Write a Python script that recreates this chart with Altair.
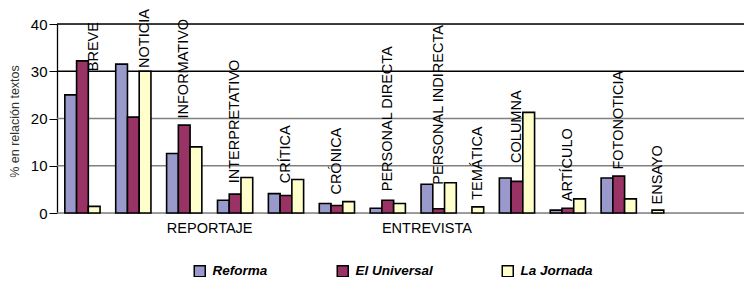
import altair as alt
import pandas as pd

series = ["Reforma", "El Universal", "La Jornada"]
colors = ["#9999CC", "#993366", "#FFFFCC"]
categories = ["BREVE", "NOTICIA", "INFORMATIVO", "INTERPRETATIVO", "CRÍTICA", "CRÓNICA",
              "PERSONAL DIRECTA", "PERSONAL INDIRECTA", "TEMÁTICA", "COLUMNA", "ARTÍCULO",
              "FOTONOTICIA", "ENSAYO"]
reforma = [25.0, 31.5, 12.6, 2.7, 4.1, 2.0, 1.0, 6.1, None, 7.4, 0.6, 7.4, None]
universal = [32.2, 20.3, 18.6, 4.0, 3.7, 1.6, 2.7, 0.9, None, 6.7, 1.0, 7.8, None]
jornada = [1.4, 30.0, 14.0, 7.5, 7.1, 2.4, 2.0, 6.4, 1.3, 21.3, 3.0, 3.0, 0.6]
# which bar each category's name is written over, and at what height (%)
label_series = ["La Jornada", "La Jornada", "El Universal", "El Universal", "El Universal",
                "El Universal", "El Universal", "El Universal", "La Jornada", "El Universal",
                "El Universal", "El Universal", "La Jornada"]
label_at = [30.0, 30.7, 20.0, 6.3, 6.3, 3.9, 4.6, 6.0, 2.8, 10.6, 2.5, 9.2, 1.8]
groups = {"REPORTAJE": ["INFORMATIVO", "INTERPRETATIVO"],
          "ENTREVISTA": ["PERSONAL DIRECTA", "PERSONAL INDIRECTA", "TEMÁTICA"]}
y_ticks = [0, 10, 20, 30, 40]

# layout in bar-width units: bars side by side, a gap between categories
GAP = 4 / 3
X_MAX = 58.5
rows, centers, spans = [], {}, {}
cursor = GAP / 2
for i, c in enumerate(categories):
    start = cursor
    for s, vals in zip(series, [reforma, universal, jornada]):
        v = vals[i]
        if v is None:
            continue
        rows.append(dict(cat=c, series=s, x=cursor, x2=cursor + 1, v=v))
        centers[(c, s)] = cursor + 0.5
        cursor += 1
    spans[c] = (start, cursor)
    cursor += GAP
bars_df = pd.DataFrame(rows)
labels_df = pd.DataFrame(dict(
    cat=categories,
    x=[centers[(c, s)] for c, s in zip(categories, label_series)],
    y=label_at,
))
group_df = pd.DataFrame(dict(
    name=list(groups.keys()),
    x=[(spans[v[0]][0] + spans[v[-1]][1]) / 2 for v in groups.values()],
))
grid_df = pd.DataFrame(dict(v=y_ticks))

FONT = "Liberation Sans"
xs = alt.Scale(domain=[0, X_MAX], nice=False, zero=False)
ys = alt.Scale(domain=[0, 40], nice=False)

grid = alt.Chart(grid_df).mark_rule(strokeWidth=1.3).encode(
    y=alt.Y("v:Q", scale=ys, axis=alt.Axis(
        values=y_ticks, title="% en relación textos", grid=False,
        labelFont=FONT, labelFontSize=15, labelColor="black", labelPadding=2,
        tickSize=8, tickColor="black", domainColor="black", domainWidth=1.3,
        titleFont=FONT, titleFontSize=12.5, titleFontWeight="normal", titleColor="#333333",
        titleX=-43, titleY=97, titleAngle=270, titleAlign="center", titleBaseline="middle")),
    color=alt.condition(alt.datum.v >= 30, alt.value("black"), alt.value("#808080")),
)

bars = alt.Chart(bars_df).mark_bar(stroke="black", strokeWidth=1.6).encode(
    x=alt.X("x:Q", scale=xs, axis=None),
    x2="x2:Q",
    y=alt.Y("v:Q", scale=ys),
    y2=alt.datum(0),
    color=alt.Color("series:N", scale=alt.Scale(domain=series, range=colors),
                    legend=alt.Legend(
                        orient="none", legendX=136, legendY=240, direction="horizontal",
                        columns=3, title=None, symbolType="square", symbolSize=121,
                        symbolStrokeColor="black", symbolStrokeWidth=1.5, symbolOpacity=1,
                        labelFont=FONT, labelFontSize=13.5, labelFontStyle="italic",
                        labelFontWeight="bold", labelColor="black", labelOffset=6,
                        columnPadding=66, padding=0)),
)

labels = alt.Chart(labels_df).mark_text(
    angle=270, align="left", baseline="middle", font=FONT, fontSize=14.5, color="black"
).encode(
    x=alt.X("x:Q", scale=xs),
    y=alt.Y("y:Q", scale=ys),
    text="cat:N",
)

group_labels = alt.Chart(group_df).mark_text(
    align="center", baseline="middle", font=FONT, fontSize=14.5, color="black"
).encode(
    x=alt.X("x:Q", scale=xs),
    y=alt.value(205),
    text="name:N",
)

chart = alt.layer(grid, bars, labels, group_labels).properties(
    width=687, height=189,
    autosize=alt.AutoSizeParams(type="none"),
    padding={"left": 49, "top": 16, "right": 0, "bottom": 64},
).configure_view(stroke=None).configure(background="white")

chart.save("out.html", embed_options={"renderer": "svg", "actions": False})
